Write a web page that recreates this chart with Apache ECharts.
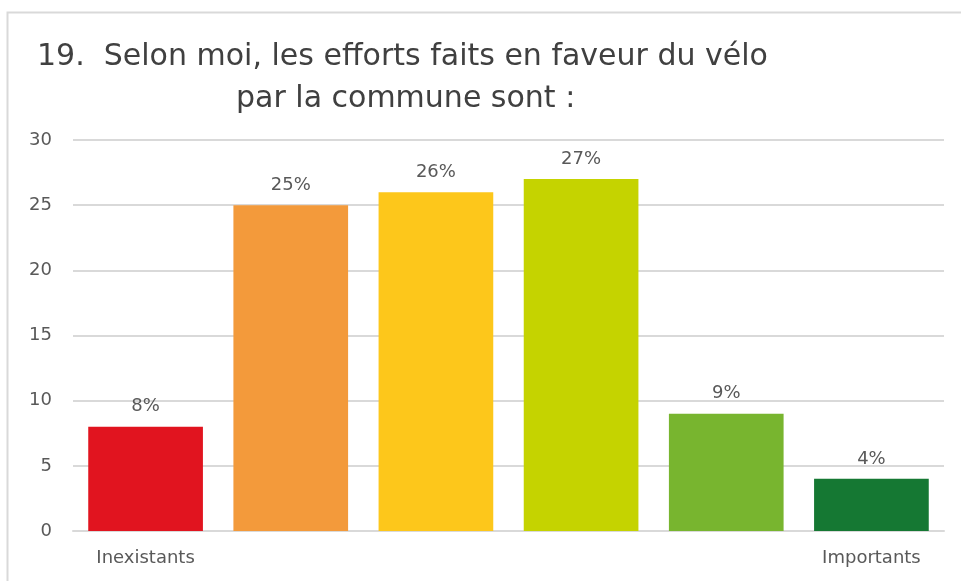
<!DOCTYPE html>
<html>
<head>
<meta charset="utf-8">
<script src="https://cdn.jsdelivr.net/npm/echarts@6/dist/echarts.min.js"></script>
<style>
  html, body { margin: 0; padding: 0; background: #fff; }
  #chart { width: 961px; height: 581px; }
</style>
</head>
<body>
<div id="chart"></div>
<script>
// categories: only the two ends carry a label
const categories = ['Inexistants', '', '', '', '', 'Importants'];
const values = [8, 25, 26, 27, 9, 4];
const valueLabels = ['8%', '25%', '26%', '27%', '9%', '4%'];
const barColors = ['#E1141F', '#F39A3B', '#FDC71B', '#C5D300', '#78B52F', '#157833'];

const chart = echarts.init(document.getElementById('chart'));

chart.setOption({
  animation: false,
  textStyle: { fontFamily: 'DejaVu Sans' },
  graphic: [{
    type: 'rect',
    shape: { x: 7.5, y: 12.5, width: 980, height: 600 },
    style: { fill: 'none', stroke: '#d9d9d9', lineWidth: 2 },
    silent: true
  }],
  title: [
    {
      text: '19.  Selon moi, les efforts faits en faveur du vélo',
      left: 32, top: 37,
      textStyle: { fontSize: 30, fontWeight: 'normal', color: '#404040' }
    },
    {
      text: 'par la commune sont :',
      left: 231, top: 79,
      textStyle: { fontSize: 30, fontWeight: 'normal', color: '#404040' }
    }
  ],
  grid: { left: 73, right: 17, top: 140, bottom: 50 },
  xAxis: {
    type: 'category',
    data: categories,
    axisLine: { lineStyle: { color: '#d9d9d9', width: 2 } },
    axisTick: { show: false },
    axisLabel: { color: '#595959', fontSize: 18, margin: 18, interval: 0 }
  },
  yAxis: {
    type: 'value',
    min: 0, max: 30, interval: 5,
    axisLine: { show: false },
    axisTick: { show: false },
    axisLabel: { color: '#595959', fontSize: 18, margin: 21 },
    splitLine: { lineStyle: { color: '#d9d9d9', width: 2 } }
  },
  series: [{
    type: 'bar',
    barCategoryGap: '21%',
    data: values.map((v, i) => ({ value: v, itemStyle: { color: barColors[i] } })),
    label: {
      show: true,
      position: 'top',
      distance: 11,
      color: '#595959',
      fontSize: 18,
      formatter: p => valueLabels[p.dataIndex]
    }
  }]
});
</script>
</body>
</html>
